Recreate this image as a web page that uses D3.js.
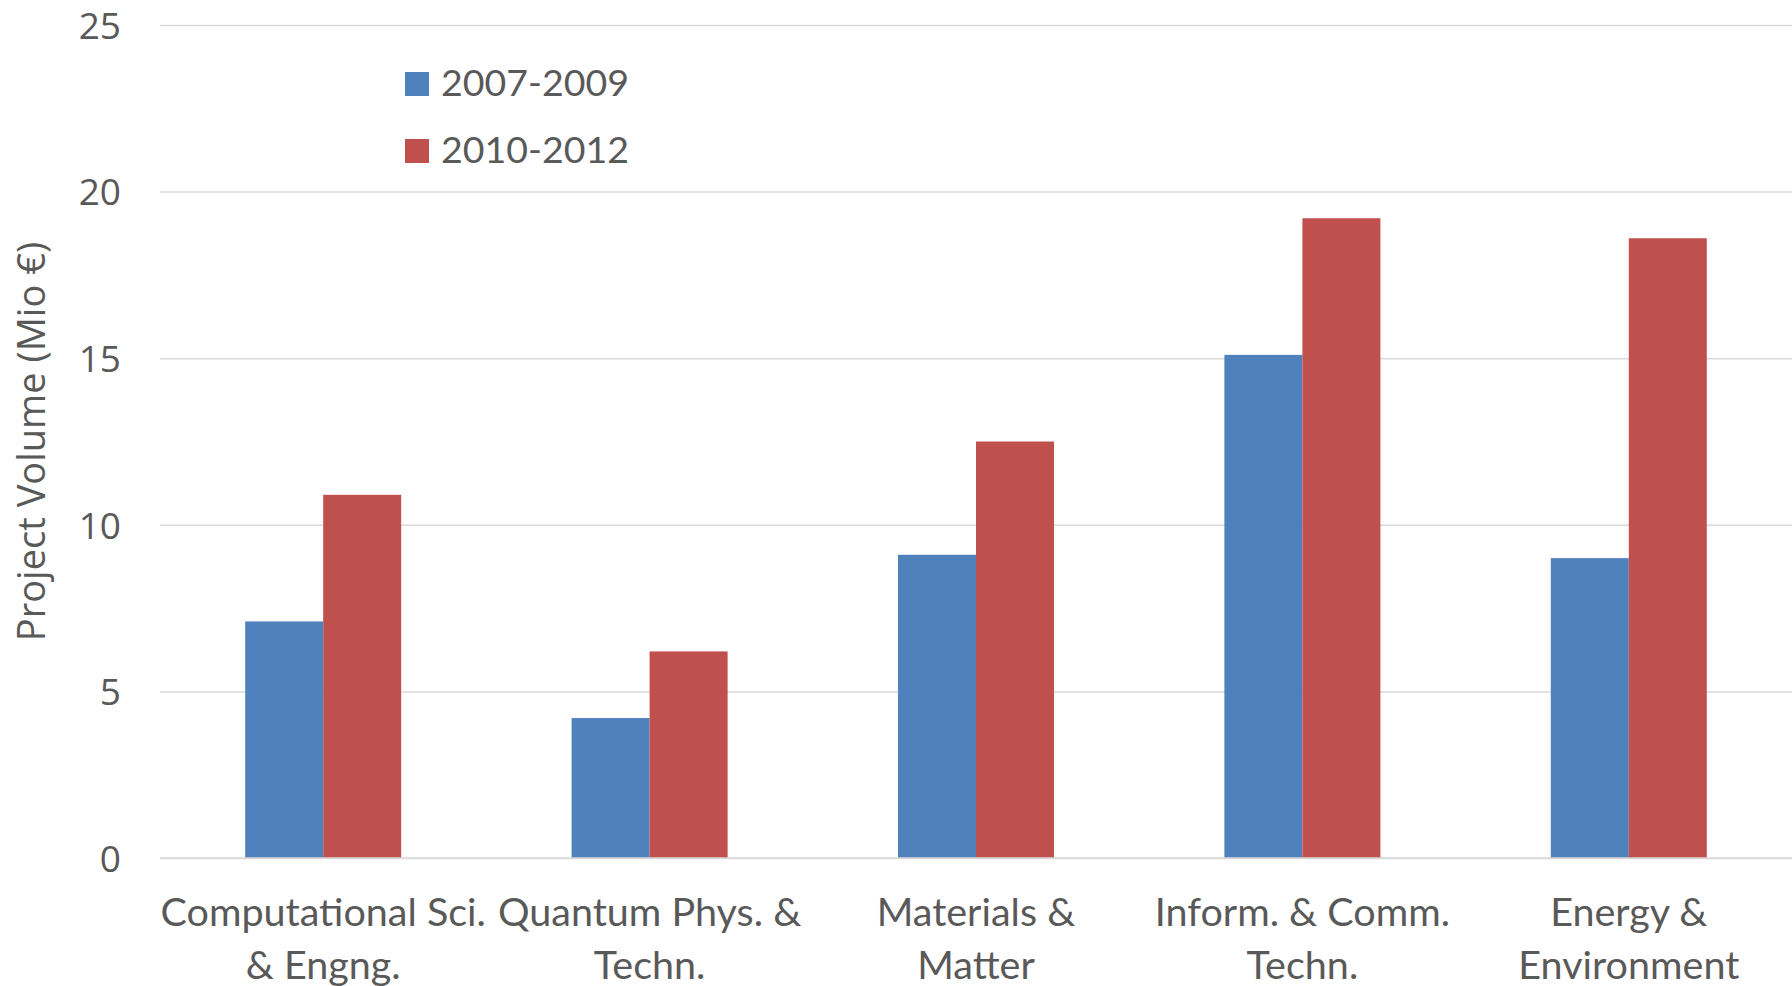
<!DOCTYPE html>
<html>
<head>
<meta charset="utf-8">
<script src="https://cdn.jsdelivr.net/npm/d3@7"></script>
<style>
  html, body { margin: 0; padding: 0; background: #fff; }
  svg { display: block; }
</style>
</head>
<body>
<svg id="chart" width="1792" height="986"></svg>
<script>
// Funding volume per research field, two periods (Mio €)
const categories = [
  "Computational Sci.\n& Engng.",
  "Quantum Phys. &\nTechn.",
  "Materials &\nMatter",
  "Inform. & Comm.\nTechn.",
  "Energy &\nEnvironment"
];
const seriesNames = ["2007-2009", "2010-2012"];
const values2007_2009 = [7.1, 4.2, 9.1, 15.1, 9.0];
const values2010_2012 = [10.9, 6.2, 12.5, 19.2, 18.6];
const yTicks = [0, 5, 10, 15, 20, 25];
const yTitle = "Project Volume (Mio €)";

const colors = ["#4F81BD", "#C0504D"];
const textColor = "#595959";
const gridColor = "#D9D9D9";
const labelFont = "Lato, 'Open Sans', sans-serif";
const tickFont = "'Open Sans', sans-serif";

const svg = d3.select("#chart");
const plot = { left: 160, right: 1792, top: 25, bottom: 858 };

const y = d3.scaleLinear().domain([0, 25]).range([plot.bottom, plot.top]);
const pad = 0.522;
const x0 = d3.scaleBand()
  .domain(categories)
  .range([plot.left, plot.right])
  .paddingInner(pad)
  .paddingOuter(pad / 2);
const x1 = d3.scaleBand().domain(seriesNames).range([0, x0.bandwidth()]);

const seriesValues = [values2007_2009, values2010_2012];

// Horizontal gridlines
const yAxis = d3.axisLeft(y).tickValues(yTicks).tickSize(-(plot.right - plot.left)).tickFormat(d3.format("d"));
const gy = svg.append("g").attr("transform", `translate(${plot.left},0)`).call(yAxis);
gy.select(".domain").remove();
gy.selectAll(".tick line").attr("stroke", gridColor).attr("stroke-width", 1.5);
gy.selectAll(".tick text")
  .attr("x", -39)
  .attr("fill", textColor)
  .attr("font-family", tickFont)
  .attr("font-size", 37)
  .attr("dy", "0.36em");

// Bars
const groups = svg.append("g").selectAll("g")
  .data(categories)
  .join("g")
  .attr("transform", d => `translate(${x0(d)},0)`);

groups.selectAll("rect")
  .data((d, i) => seriesNames.map((s, j) => ({ s, v: seriesValues[j][i], j })))
  .join("rect")
  .attr("x", d => x1(d.s))
  .attr("y", d => y(d.v))
  .attr("width", x1.bandwidth())
  .attr("height", d => y(0) - y(d.v))
  .attr("fill", d => colors[d.j]);

// Baseline redrawn over the bars
svg.append("line")
  .attr("x1", plot.left).attr("x2", plot.right)
  .attr("y1", y(0)).attr("y2", y(0))
  .attr("stroke", gridColor).attr("stroke-width", 1.5);

// Category labels (two lines each)
const xAxis = svg.append("g");
categories.forEach(c => {
  const cx = x0(c) + x0.bandwidth() / 2;
  const t = xAxis.append("text")
    .attr("x", cx).attr("y", 926)
    .attr("text-anchor", "middle")
    .attr("fill", textColor)
    .attr("font-family", labelFont)
    .attr("font-size", 39.5);
  c.split("\n").forEach((line, k) => {
    t.append("tspan").attr("x", cx).attr("y", 926 + k * 53).text(line);
  });
});

// Legend
const legend = svg.append("g").attr("transform", "translate(405,72)");
seriesNames.forEach((s, i) => {
  const g = legend.append("g").attr("transform", `translate(0,${i * 67})`);
  g.append("rect").attr("width", 24).attr("height", 24).attr("fill", colors[i]);
  g.append("text")
    .attr("x", 36).attr("y", 24)
    .attr("fill", textColor)
    .attr("font-family", labelFont)
    .attr("font-size", 37.5)
    .text(s);
});

// Y axis title
svg.append("text")
  .attr("transform", `translate(45,${(plot.top + plot.bottom) / 2}) rotate(-90)`)
  .attr("text-anchor", "middle")
  .attr("fill", textColor)
  .attr("font-family", tickFont)
  .attr("font-size", 38)
  .text(yTitle);
</script>
</body>
</html>
